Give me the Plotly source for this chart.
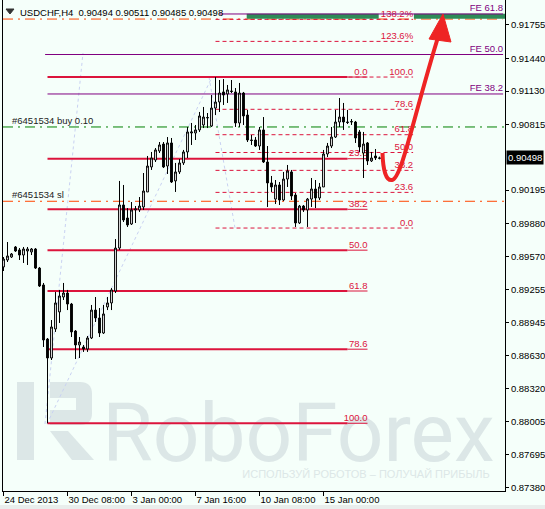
import plotly.graph_objects as go

# USDCHF H4 candles, bar index 0..94 (24 Dec 2013 -> 17 Jan 2014)
opens = [0.89468, 0.89534, 0.89562, 0.89657, 0.89629, 0.89581, 0.89619, 0.89610, 0.89638, 0.89458,
         0.89298, 0.88787, 0.88608, 0.88882, 0.89043, 0.89184, 0.89222, 0.89118, 0.88863, 0.88731,
         0.88712, 0.88693, 0.88797, 0.89061, 0.88986, 0.88844, 0.89090, 0.89128, 0.89241, 0.89647,
         0.90054, 0.89931, 0.89874, 0.90007, 0.90007, 0.90035, 0.90177, 0.90413, 0.90479, 0.90564,
         0.90630, 0.90422, 0.90640, 0.90281, 0.90366, 0.90451, 0.90555, 0.90734, 0.90734, 0.90763,
         0.90810, 0.90876, 0.90800, 0.90970, 0.91027, 0.91122, 0.91103, 0.91131, 0.91122, 0.90829,
         0.91112, 0.90904, 0.90668, 0.90668, 0.90611, 0.90763, 0.90460, 0.90262, 0.90110, 0.90243,
         0.90101, 0.90299, 0.90366, 0.90148, 0.89884, 0.90044, 0.90007, 0.90110, 0.90205, 0.90120,
         0.90224, 0.90536, 0.90611, 0.90696, 0.90838, 0.90885, 0.90838, 0.90838, 0.90838, 0.90744,
         0.90545, 0.90640, 0.90470, 0.90517, 0.90494]
highs = [0.89562, 0.89704, 0.89600, 0.89666, 0.89647, 0.89657, 0.89657, 0.89647, 0.89647, 0.89468,
         0.89317, 0.88797, 0.88967, 0.89232, 0.89251, 0.89317, 0.89251, 0.89128, 0.88872, 0.88806,
         0.88731, 0.88816, 0.89109, 0.89184, 0.89080, 0.89109, 0.89184, 0.89269, 0.89732, 0.90281,
         0.90243, 0.90025, 0.90082, 0.90044, 0.90129, 0.90356, 0.90517, 0.90555, 0.90592, 0.90649,
         0.90649, 0.90696, 0.90687, 0.90451, 0.90488, 0.90574, 0.90791, 0.90829, 0.90810, 0.90933,
         0.90980, 0.90923, 0.91093, 0.91263, 0.91235, 0.91244, 0.91188, 0.91235, 0.91159, 0.91207,
         0.91122, 0.90952, 0.90715, 0.90696, 0.90791, 0.90885, 0.90611, 0.90328, 0.90290, 0.90271,
         0.90366, 0.90432, 0.90385, 0.90167, 0.90054, 0.90054, 0.90120, 0.90309, 0.90290, 0.90262,
         0.90574, 0.90640, 0.90791, 0.90952, 0.91065, 0.91018, 0.90952, 0.90866, 0.90848, 0.90763,
         0.90744, 0.90649, 0.90555, 0.90583, 0.90511]
lows = [0.89430, 0.89515, 0.89553, 0.89610, 0.89534, 0.89506, 0.89487, 0.89581, 0.89449, 0.89279,
        0.88712, 0.87991, 0.88589, 0.88854, 0.88939, 0.89156, 0.89061, 0.88806, 0.88598, 0.88608,
        0.88665, 0.88665, 0.88787, 0.88948, 0.88806, 0.88835, 0.89061, 0.89061, 0.89222, 0.89629,
        0.89893, 0.89846, 0.89865, 0.89884, 0.89988, 0.90007, 0.90177, 0.90385, 0.90460, 0.90545,
        0.90403, 0.90347, 0.90262, 0.90177, 0.90347, 0.90432, 0.90498, 0.90621, 0.90668, 0.90744,
        0.90781, 0.90781, 0.90791, 0.90904, 0.90933, 0.90999, 0.91018, 0.91112, 0.90791, 0.90791,
        0.90810, 0.90649, 0.90621, 0.90602, 0.90574, 0.90451, 0.90035, 0.90177, 0.90063, 0.90054,
        0.90091, 0.90224, 0.90101, 0.89846, 0.89874, 0.89988, 0.89846, 0.90035, 0.90025, 0.90101,
        0.90224, 0.90507, 0.90592, 0.90687, 0.90791, 0.90763, 0.90819, 0.90810, 0.90640, 0.90555,
        0.90309, 0.90432, 0.90460, 0.90479, 0.90485]
closes = [0.89543, 0.89572, 0.89591, 0.89619, 0.89581, 0.89638, 0.89638, 0.89638, 0.89458, 0.89288,
          0.88778, 0.88608, 0.88901, 0.89128, 0.89194, 0.89222, 0.89118, 0.88854, 0.88731, 0.88759,
          0.88693, 0.88797, 0.89061, 0.88986, 0.88844, 0.89024, 0.89128, 0.89251, 0.89647, 0.90054,
          0.89912, 0.89865, 0.90007, 0.90016, 0.90044, 0.90186, 0.90422, 0.90498, 0.90574, 0.90621,
          0.90413, 0.90640, 0.90271, 0.90366, 0.90451, 0.90555, 0.90744, 0.90744, 0.90763, 0.90895,
          0.90885, 0.90880, 0.90970, 0.91027, 0.91112, 0.91093, 0.91141, 0.91127, 0.90829, 0.91112,
          0.90895, 0.90668, 0.90664, 0.90611, 0.90763, 0.90460, 0.90262, 0.90224, 0.90243, 0.90101,
          0.90299, 0.90375, 0.90139, 0.89884, 0.90044, 0.90007, 0.90110, 0.90205, 0.90120, 0.90224,
          0.90536, 0.90611, 0.90696, 0.90838, 0.90885, 0.90838, 0.90834, 0.90842, 0.90687, 0.90602,
          0.90630, 0.90470, 0.90498, 0.90498, 0.90498]

time_ticks = [0, 16, 32, 48, 64, 80]
time_labels = ['24 Dec 2013', '30 Dec 08:00', '3 Jan 00:00', '7 Jan 16:00', '10 Jan 08:00', '15 Jan 00:00']
price_ticks = [0.91755, 0.91440, 0.91130, 0.90815, 0.90195, 0.89880, 0.89570, 0.89255,
               0.88945, 0.88630, 0.88320, 0.88005, 0.87695, 0.87380]

# big Fibonacci retracement (solid)
fib_labels = ['0.0', '23.6', '38.2', '50.0', '61.8', '78.6', '100.0']
fib_prices = [0.91263, 0.90491, 0.90013, 0.89627, 0.89241, 0.88691, 0.87991]
# small Fibonacci retracement (dashed)
fib2_labels = ['0.0', '23.6', '38.2', '50.0', '61.8', '78.6', '100.0', '123.6%', '138.2%']
fib2_prices = [0.89836, 0.90173, 0.90381, 0.90550, 0.90718, 0.90958, 0.91263, 0.91600, 0.91808]
# Fibonacci expansion
fe_labels = ['FE 38.2', 'FE 50.0', 'FE 61.8']
fe_prices = [0.91103, 0.91476, 0.91859]
fe_start = [11, 10.4, 54]

buy_price = 0.90791
sl_price = 0.90089
tp_price = 0.91811
last_price = 0.90498
target_zone = (0.91814, 0.91862)

BG = '#F5FFFA'
CRIMSON = '#DC143C'
PURPLE = '#800080'
WM = '#DCE7E7'
FONT = 'Liberation Sans, Arial, sans-serif'

# plot area in pixels: x 3..505, y 0..491
def pp(x, y):
    return (x - 3) / 502, (491 - y) / 491

def path(points, close=False):
    out = []
    for cmd, pts in points:
        s = ' '.join('%.5f,%.5f' % pp(*p) for p in pts)
        out.append(cmd + ' ' + s)
    return ' '.join(out) + (' Z' if close else '')

fig = go.Figure()

shapes = []

# watermark
def wm_rect(x0, y0, x1, y1, color=WM):
    a, b = pp(x0, y1)
    c, d = pp(x1, y0)
    return dict(type='rect', xref='paper', yref='paper', x0=a, y0=b, x1=c, y1=d,
                fillcolor=color, line=dict(width=0), layer='below')

shapes.append(wm_rect(17, 382, 34, 460))
shapes.append(dict(type='path', xref='paper', yref='paper', layer='below', fillcolor=WM, line=dict(width=0),
                   path=path([('M', [(50, 382)]), ('L', [(80, 382)]), ('Q', [(92, 382), (92, 394)]),
                              ('L', [(92, 413)]), ('Q', [(92, 425), (80, 425)]), ('L', [(50, 425)])], True)))
shapes.append(wm_rect(50, 398, 76, 410, BG))
shapes.append(dict(type='path', xref='paper', yref='paper', layer='below', fillcolor=WM, line=dict(width=0),
                   path=path([('M', [(50, 431)]), ('L', [(68, 431)]), ('L', [(94, 460)]), ('L', [(72, 460)])], True)))
a, b = pp(105, 467)
c, d = pp(492, 387)
shapes.append(dict(type='rect', xref='paper', yref='paper', x0=a, y0=b, x1=c, y1=d, layer='below',
                   line=dict(width=0), fillcolor='rgba(0,0,0,0)',
                   label=dict(text='RoboForex', textposition='middle center',
                              font=dict(family='Liberation Sans Narrow, Roboto, sans-serif', size=82, color=WM))))
a, b = pp(236, 480)
c, d = pp(496, 466)
shapes.append(dict(type='rect', xref='paper', yref='paper', x0=a, y0=b, x1=c, y1=d, layer='below',
                   line=dict(width=0), fillcolor='rgba(0,0,0,0)',
                   label=dict(text='ИСПОЛЬЗУЙ РОБОТОВ – ПОЛУЧАЙ ПРИБЫЛЬ', textposition='middle center',
                              font=dict(family=FONT, size=11, color=WM))))

# faint dotted trend lines of the Fibonacci tools
for (x0, y0), (x1, y1) in [((47, 424), (212, 77)), ((45, 424), (83, 53)), ((209, 77), (235, 228))]:
    a, b = pp(x0, y0)
    c, d = pp(x1, y1)
    shapes.append(dict(type='line', xref='paper', yref='paper', x0=a, y0=b, x1=c, y1=d, layer='below',
                       line=dict(color='#C9D2F2', width=1, dash='dot')))

# big retracement
for lab, p in zip(fib_labels, fib_prices):
    shapes.append(dict(type='line', xref='x', yref='y', x0=11, x1=86, y0=p, y1=p, layer='below',
                       line=dict(color=CRIMSON, width=2)))
    shapes.append(dict(type='line', xref='x', yref='y', x0=86, x1=91, y0=p, y1=p, layer='below',
                       line=dict(color=CRIMSON, width=1),
                       label=dict(text=lab, textposition='end', xanchor='right', yanchor='bottom', padding=1,
                                  font=dict(family=FONT, size=9.5, color=CRIMSON))))

# small retracement
for lab, p in zip(fib2_labels, fib2_prices):
    shapes.append(dict(type='line', xref='x', yref='y', x0=53, x1=102.4, y0=p, y1=p, layer='below',
                       line=dict(color=CRIMSON, width=1, dash='4px,3px'),
                       label=dict(text=lab, textposition='end', xanchor='right', yanchor='bottom', padding=1,
                                  font=dict(family=FONT, size=9.5, color=CRIMSON))))

# target zone (split around the 138.2% label)
for x0, x1 in [(60.8, 93.8), (102.6, 125.4)]:
    shapes.append(dict(type='rect', xref='x', yref='y', x0=x0, x1=x1, y0=target_zone[0], y1=target_zone[1],
                       layer='below', fillcolor='#2E8B57', line=dict(width=0)))

# expansion
for lab, p, s in zip(fe_labels, fe_prices, fe_start):
    shapes.append(dict(type='line', xref='x', yref='y', x0=s, x1=124.9, y0=p, y1=p, layer='below',
                       line=dict(color=PURPLE, width=1),
                       label=dict(text=lab, textposition='end', xanchor='right', yanchor='bottom', padding=1,
                                  font=dict(family=FONT, size=9.5, color=PURPLE))))

# order lines
for p, col, x1 in [(buy_price, '#008000', 1), (sl_price, '#FF4500', 1), (tp_price, '#FF4500', 0.995)]:
    shapes.append(dict(type='line', xref='paper', yref='y', x0=0, x1=x1, y0=p, y1=p, layer='below',
                       line=dict(color=col, width=1, dash='10px,5px,2px,5px')))

# forecast arrow
shapes.append(dict(type='path', xref='paper', yref='paper', layer='above',
                   line=dict(color='#EE2424', width=4),
                   path=path([('M', [(382.5, 153)]), ('C', [(383, 170), (386, 181), (392, 180)]),
                              ('C', [(402, 178), (413, 118), (439, 34)])])))
shapes.append(dict(type='path', xref='paper', yref='paper', layer='above', fillcolor='#EE2424',
                   line=dict(color='#EE2424', width=1),
                   path=path([('M', [(443, 14)]), ('L', [(451, 42)]), ('L', [(429, 39)])], True)))

# small menu icon at top-left
shapes.append(dict(type='path', xref='paper', yref='paper', layer='above', fillcolor='#333333',
                   line=dict(color='#333333', width=1),
                   path=path([('M', [(6, 9)]), ('L', [(14, 9)]), ('L', [(10, 14)])], True)))

# bottom window strip
shapes.append(dict(type='rect', xref='paper', yref='paper', x0=-0.01, x1=1.1, y0=-0.0285, y1=-0.04,
                   fillcolor='#E9EEEC', line=dict(width=0), layer='below'))

fig.add_trace(go.Candlestick(
    x=list(range(len(opens))), open=opens, high=highs, low=lows, close=closes,
    increasing=dict(line=dict(color='black', width=1), fillcolor='white'),
    decreasing=dict(line=dict(color='black', width=1), fillcolor='black'),
    whiskerwidth=0, showlegend=False, hoverinfo='skip'
))

annotations = []
tx, ty = pp(18, 12)
annotations.append(dict(xref='paper', yref='paper', x=tx, y=ty, xanchor='left', yanchor='middle',
                        text='USDCHF,H4  0.90494 0.90511 0.90485 0.90498', showarrow=False,
                        font=dict(family=FONT, size=9.5, color='black')))
lx, _ = pp(10, 0)
for p, t in [(buy_price, '#6451534 buy 0.10'), (sl_price, '#6451534 sl')]:
    annotations.append(dict(xref='paper', yref='y', x=lx, y=p, xanchor='left', yanchor='bottom', yshift=-1,
                            text=t, showarrow=False, font=dict(family=FONT, size=9.5, color='#222222')))
annotations.append(dict(xref='paper', yref='y', x=1, y=last_price, xanchor='left', yanchor='middle', xshift=1,
                        text='0.90498', showarrow=False, bgcolor='black', borderpad=1,
                        font=dict(family=FONT, size=9.5, color='white')))

fig.update_layout(
    width=545, height=509,
    margin=dict(l=3, r=40, t=0, b=18),
    paper_bgcolor=BG, plot_bgcolor=BG,
    shapes=shapes, annotations=annotations,
    boxgap=0.35,
    xaxis=dict(range=[-0.125, 125.375], rangeslider=dict(visible=False), showgrid=False, zeroline=False,
               showline=True, linecolor='black', linewidth=1,
               tickvals=time_ticks, ticktext=time_labels, ticks='outside', ticklen=4, tickcolor='black',
               tickangle=0, ticklabelposition='outside right',
               tickfont=dict(family=FONT, size=9.5, color='black')),
    yaxis=dict(range=[0.87351, 0.91991], side='right', showgrid=False, zeroline=False,
               showline=True, mirror=True, linecolor='black', linewidth=1,
               tickvals=price_ticks, ticktext=['%.5f' % v for v in price_ticks],
               ticks='outside', ticklen=3, tickcolor='black',
               tickfont=dict(family=FONT, size=9.5, color='black')),
    showlegend=False,
)

fig.write_html("out.html", config={'displayModeBar': False},
               post_script="document.body.style.margin='0px';")
